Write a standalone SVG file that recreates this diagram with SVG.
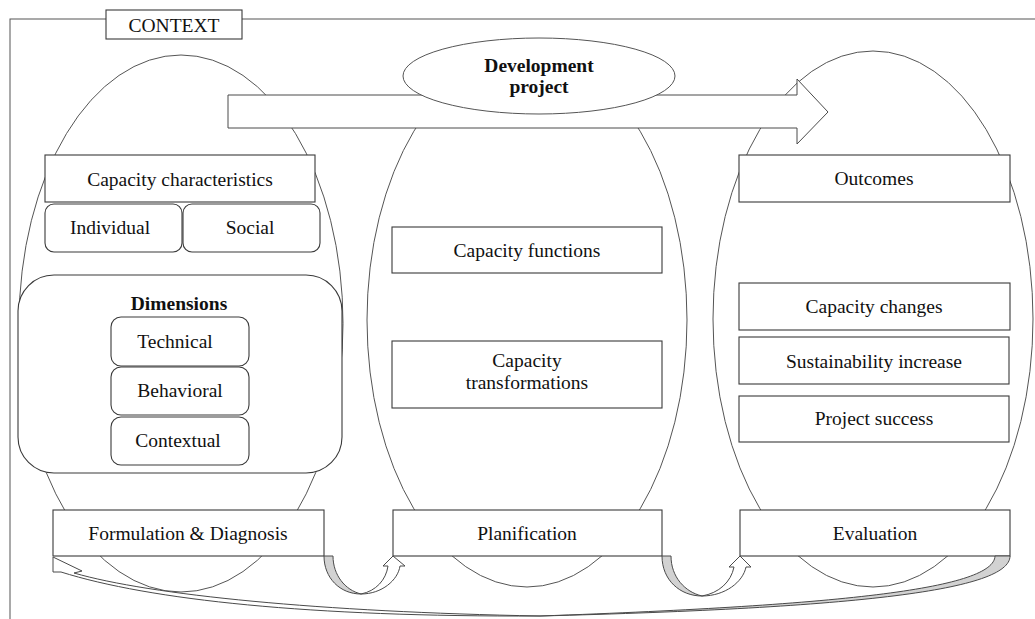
<svg xmlns="http://www.w3.org/2000/svg" width="1035" height="619" viewBox="0 0 1035 619">
<defs>
<style>
.ln{fill:#fff;stroke:#4a4a4a;stroke-width:1}
.el{fill:#fff;stroke:#555;stroke-width:1}
.bx{fill:#fff;stroke:#3a3a3a;stroke-width:1.1}
.t{font-family:"Liberation Serif","Times New Roman",serif;font-size:19.5px;fill:#111;text-anchor:middle}
.b{font-weight:bold}
.gr{fill:#d2d2d2;stroke:#4a4a4a;stroke-width:1}
.wh{fill:#fff;stroke:#4a4a4a;stroke-width:1}
</style>
</defs>
<rect width="1035" height="619" fill="#fff"/>
<g id="context">
<rect x="10" y="19" width="1100" height="700" fill="none" stroke="#555" stroke-width="1"/>
<rect class="bx" x="106" y="10" width="136" height="29"/>
<text class="t" x="174" y="32">CONTEXT</text>
</g>
<g id="ellipses">
<ellipse id="ell-left" class="el" cx="181" cy="323.5" rx="162" ry="268.5"/>
<ellipse id="ell-mid" class="el" cx="527" cy="320" rx="160" ry="267"/>
<ellipse id="ell-right" class="el" cx="873" cy="319" rx="160" ry="268"/>
</g>
<g id="dev-arrow">
<path class="ln" d="M228,95 L797,95 L797,79 L828,112 L797,144 L797,128 L228,128 Z"/>
</g>
<g id="dev-project">
<ellipse class="el" cx="539" cy="76" rx="136" ry="38"/>
<text class="t b" x="539" y="72">Development</text>
<text class="t b" x="539" y="93">project</text>
</g>
<g id="cap-char">
<rect class="bx" x="45" y="155" width="270" height="47"/>
<text class="t" x="180" y="186">Capacity characteristics</text>
</g>
<g id="individual">
<rect class="bx" x="45" y="204" width="137" height="48" rx="9"/>
<text class="t" x="110" y="234">Individual</text>
</g>
<g id="social">
<rect class="bx" x="183" y="204" width="137" height="48" rx="9"/>
<text class="t" x="250" y="234">Social</text>
</g>
<g id="dimensions">
<rect class="bx" x="18" y="275" width="324" height="198" rx="36"/>
<text class="t b" x="179" y="310">Dimensions</text>
</g>
<g id="technical">
<rect class="bx" x="111" y="317" width="138" height="49" rx="10"/>
<text class="t" x="175" y="348">Technical</text>
</g>
<g id="behavioral">
<rect class="bx" x="111" y="367" width="138" height="48" rx="10"/>
<text class="t" x="180" y="397">Behavioral</text>
</g>
<g id="contextual">
<rect class="bx" x="111" y="417" width="138" height="48" rx="10"/>
<text class="t" x="178" y="447">Contextual</text>
</g>
<g id="cap-functions">
<rect class="bx" x="392" y="227" width="270" height="46"/>
<text class="t" x="527" y="257">Capacity functions</text>
</g>
<g id="cap-transformations">
<rect class="bx" x="392" y="341" width="270" height="67"/>
<text class="t" x="527" y="367">Capacity</text>
<text class="t" x="527" y="389">transformations</text>
</g>
<g id="outcomes">
<rect class="bx" x="739" y="155" width="271" height="47"/>
<text class="t" x="874" y="185">Outcomes</text>
</g>
<g id="cap-changes">
<rect class="bx" x="739" y="283" width="271" height="47"/>
<text class="t" x="874" y="313">Capacity changes</text>
</g>
<g id="sustainability">
<rect class="bx" x="739" y="337" width="270" height="47"/>
<text class="t" x="874" y="368">Sustainability increase</text>
</g>
<g id="project-success">
<rect class="bx" x="739" y="396" width="270" height="46"/>
<text class="t" x="874" y="425">Project success</text>
</g>
<g id="formulation">
<rect class="bx" x="53" y="510" width="271" height="46"/>
<text class="t" x="188" y="540">Formulation &amp; Diagnosis</text>
</g>
<g id="planification">
<rect class="bx" x="393" y="510" width="269" height="46"/>
<text class="t" x="527" y="540">Planification</text>
</g>
<g id="evaluation">
<rect class="bx" x="740" y="510" width="270" height="46"/>
<text class="t" x="875" y="540">Evaluation</text>
</g>
<g id="connectors">
<path class="gr" d="M324,556 C324,578 340,594 361,594 C345,590 333,575 333,556 Z"/>
<path class="wh" d="M361,594 C382,594 398,580 400,566 L405,566 L393,556 L383,566 L388,566 C386,580 376,591 361,594 Z"/>
<path class="gr" d="M662,556 C662,580 680,596 702,596 C685,592 671,577 671,556 Z"/>
<path class="wh" d="M702,596 C725,596 743,582 746,567 L751,567 L740,556 L729,567 L734,567 C731,582 719,593 702,596 Z"/>
<path class="gr" d="M1010,556 C1010,590 860,608 540,616 C850,605 994,588 995,556 Z"/>
<path class="wh" d="M540,616 C310,617 150,600 61,572 L53,572 L53,557 L82,571 L74,573 C150,595 320,612 540,616 Z"/>
</g>
</svg>
